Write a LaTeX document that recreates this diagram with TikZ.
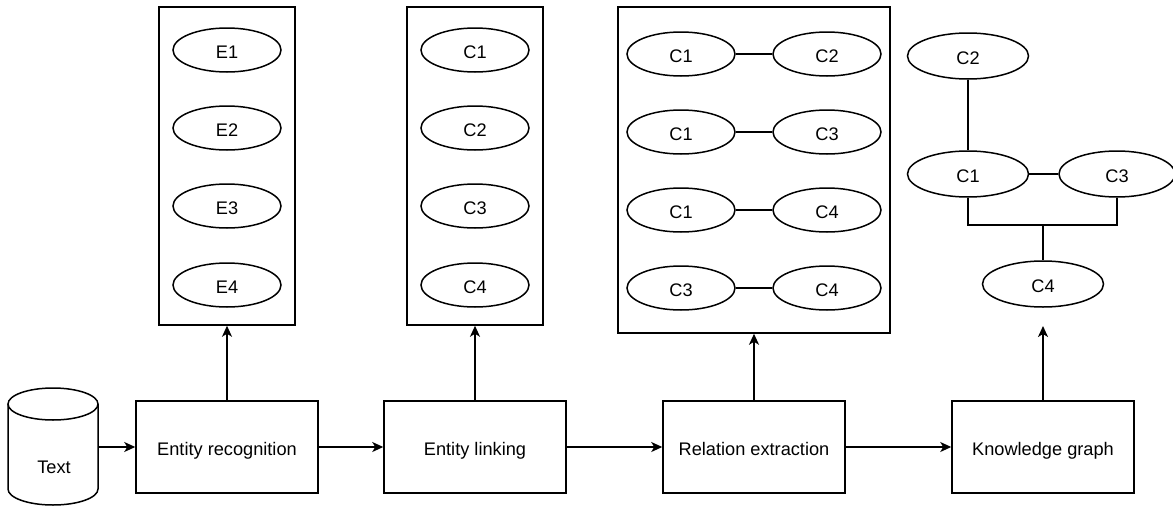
\documentclass[tikz,border=0pt]{standalone}
\usepackage{fontspec}
\setmainfont{Liberation Sans}
\usetikzlibrary{arrows.meta,shapes.geometric}

\tikzset{
  base/.style={line width=1.5pt, draw=black, text height=16pt, text depth=0pt},
  procbox/.style={base, rectangle, minimum width=182pt, minimum height=92pt, inner sep=0pt},
  panel/.style={base, rectangle, inner sep=0pt},
  ent/.style={base, ellipse, minimum width=108pt, minimum height=44pt, inner sep=0pt},
  kgent/.style={base, ellipse, minimum width=121pt, minimum height=46pt, inner sep=0pt},
  link/.style={line width=1.5pt},
  arr/.style={line width=1.5pt, -{Stealth[length=11pt, width=10pt, inset=3pt]}},
}

\begin{document}
\begin{tikzpicture}[x=1pt, y=-1pt, font=\fontsize{18.2}{21}\selectfont]
\useasboundingbox (0,0) rectangle (1173,506);

% text store (cylinder)
\node[minimum width=90pt, minimum height=117pt, inner sep=0pt] (db) at (53,447) {};
\draw[line width=1.5pt] (53,404) ellipse [x radius=45, y radius=16];
\draw[line width=1.5pt] (8,404) -- (8,489) arc [start angle=180, end angle=0, x radius=45, y radius=16] -- (98,404);
\node[text height=16pt, text depth=0pt] (dblabel) at (54,465) {Text};

% pipeline stages
\node[procbox] (er) at (227,447) {Entity recognition};
\node[procbox] (el) at (475,447) {Entity linking};
\node[procbox] (re) at (754,447) {Relation extraction};
\node[procbox] (kg) at (1043,447) {Knowledge graph};

% result panels
\node[panel, minimum width=136pt, minimum height=318pt] (p1) at (227,166) {};
\node[panel, minimum width=136pt, minimum height=318pt] (p2) at (475,166) {};
\node[panel, minimum width=272pt, minimum height=326pt] (p3) at (754,170) {};

% recognised entities
\node[ent] (e1) at (227,50) {E1};
\node[ent] (e2) at (227,128) {E2};
\node[ent] (e3) at (227,206) {E3};
\node[ent] (e4) at (227,285) {E4};

% linked concepts
\node[ent] (l1) at (475,50) {C1};
\node[ent] (l2) at (475,128) {C2};
\node[ent] (l3) at (475,206) {C3};
\node[ent] (l4) at (475,285) {C4};

% extracted relations
\node[ent] (ra1) at (681,54) {C1};
\node[ent] (rb1) at (827,54) {C2};
\node[ent] (ra2) at (681,132) {C1};
\node[ent] (rb2) at (827,132) {C3};
\node[ent] (ra3) at (681,210) {C1};
\node[ent] (rb3) at (827,210) {C4};
\node[ent] (ra4) at (681,288) {C3};
\node[ent] (rb4) at (827,288) {C4};
\draw[link] (ra1) -- (rb1);
\draw[link] (ra2) -- (rb2);
\draw[link] (ra3) -- (rb3);
\draw[link] (ra4) -- (rb4);

% knowledge graph
\node[kgent] (g2) at (968,56) {C2};
\node[kgent] (g1) at (968,174) {C1};
\node[kgent, minimum width=116pt] (g3) at (1117,174) {C3};
\node[kgent] (g4) at (1043,284) {C4};
\coordinate (gj) at (1043,225);
\coordinate (kgtip) at (1043,326);
\draw[link] (g2) -- (g1);
\draw[link] (g1) -- (g3);
\draw[link] (g1.south) |- (gj) -| (g3.south);
\draw[link] (gj) -- (g4.north);

% flow arrows
\draw[arr] (db.east) -- (er.west);
\draw[arr] (er) -- (el);
\draw[arr] (el) -- (re);
\draw[arr] (re) -- (kg);
\draw[arr] (er.north) -- (p1.south);
\draw[arr] (el.north) -- (p2.south);
\draw[arr] (re.north) -- (p3.south);
\draw[arr] (kg.north) -- (kgtip);
\end{tikzpicture}
\end{document}
